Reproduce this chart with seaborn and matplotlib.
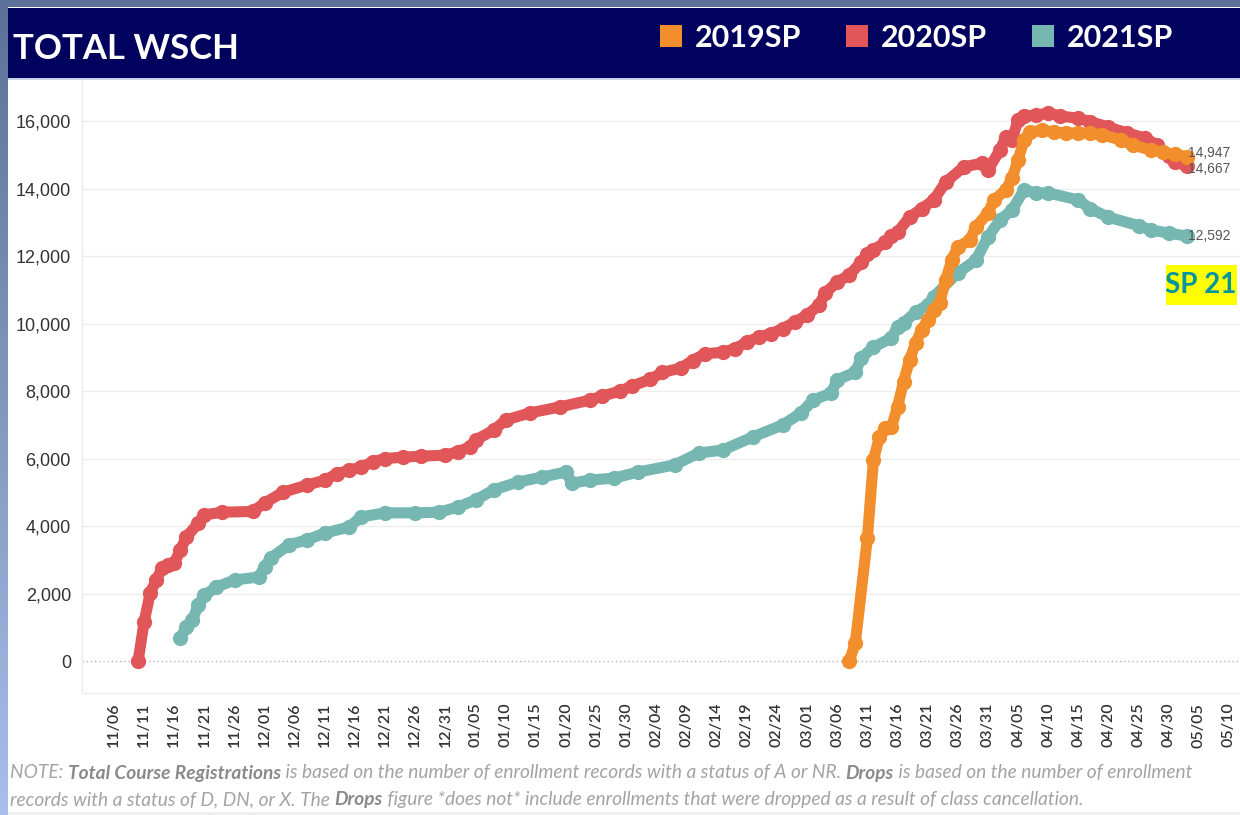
import numpy as np
import pandas as pd
import matplotlib
matplotlib.use("Agg")
import matplotlib.pyplot as plt
import seaborn as sns
from matplotlib.patches import Rectangle
from matplotlib.colors import LinearSegmentedColormap

# ---------------- data ----------------
series_names = ["2019SP", "2020SP", "2021SP"]
series_colors = ["#f28e2b", "#e15759", "#76b7b2"]

dates_2019 = ["03/08", "03/09", "03/11", "03/12", "03/13", "03/14", "03/15", "03/16", "03/17",
              "03/18", "03/19", "03/20", "03/21", "03/22", "03/23", "03/24", "03/25", "03/26",
              "03/28", "03/29", "03/31", "04/01", "04/03", "04/04", "04/05", "04/06", "04/07",
              "04/09", "04/11", "04/13", "04/15", "04/17", "04/19", "04/22", "04/24", "04/27",
              "04/29", "05/01", "05/03"]
wsch_2019 = [0, 530, 3640, 5950, 6640, 6900, 6930, 7530, 8270,
             8920, 9420, 9810, 10100, 10400, 10610, 11290, 11880, 12270,
             12470, 12860, 13270, 13660, 13960, 14310, 14840, 15440, 15680,
             15720, 15680, 15640, 15650, 15640, 15590, 15440, 15290, 15140,
             15080, 15010, 14947]

dates_2020 = ["11/10", "11/11", "11/12", "11/13", "11/14", "11/15", "11/16", "11/17", "11/18",
              "11/20", "11/21", "11/24", "11/29", "12/01", "12/04", "12/08", "12/11", "12/13",
              "12/15", "12/17", "12/19", "12/21", "12/24", "12/27", "12/31", "01/02", "01/04",
              "01/05", "01/08", "01/10", "01/14", "01/19", "01/24", "01/26", "01/29", "01/31",
              "02/03", "02/05", "02/08", "02/10", "02/12", "02/15", "02/17", "02/19", "02/21",
              "02/23", "02/25", "02/27", "03/01", "03/03", "03/04", "03/06", "03/08", "03/10",
              "03/11", "03/12", "03/14", "03/15", "03/16", "03/18", "03/20", "03/22", "03/24",
              "03/27", "03/30", "03/31", "04/02", "04/03", "04/04", "04/05", "04/06", "04/08",
              "04/10", "04/12", "04/15", "04/17", "04/20", "04/23", "04/26", "04/28", "04/30",
              "05/01", "05/03"]
wsch_2020 = [0, 1160, 2010, 2400, 2750, 2850, 2900, 3290, 3670,
             4090, 4330, 4410, 4430, 4680, 5000, 5210, 5360, 5550,
             5650, 5750, 5900, 6000, 6040, 6070, 6100, 6200, 6340,
             6550, 6840, 7140, 7350, 7530, 7730, 7850, 8000, 8150,
             8350, 8550, 8680, 8900, 9100, 9150, 9250, 9450, 9600,
             9700, 9850, 10050, 10250, 10550, 10900, 11230, 11440, 11820,
             12050, 12180, 12410, 12600, 12700, 13150, 13400, 13660, 14190,
             14640, 14750, 14550, 15140, 15530, 15440, 16030, 16150, 16170,
             16240, 16150, 16080, 15980, 15820, 15650, 15500, 15300, 14950,
             14800, 14667]

dates_2021 = ["11/17", "11/18", "11/19", "11/20", "11/21", "11/23", "11/26", "11/30", "12/01",
              "12/02", "12/05", "12/08", "12/11", "12/15", "12/17", "12/21", "12/26", "12/30",
              "01/02", "01/05", "01/08", "01/12", "01/16", "01/20", "01/21", "01/24", "01/28",
              "02/01", "02/07", "02/11", "02/15", "02/20", "02/25", "02/28", "03/02", "03/05",
              "03/06", "03/09", "03/10", "03/12", "03/15", "03/16", "03/17", "03/19", "03/21",
              "03/22", "03/26", "03/29", "03/31", "04/02", "04/04", "04/06", "04/08", "04/10",
              "04/15", "04/17", "04/20", "04/25", "04/27", "04/30", "05/03"]
wsch_2021 = [680, 1000, 1210, 1660, 1950, 2190, 2400, 2490, 2790,
             3050, 3440, 3590, 3790, 3970, 4270, 4390, 4390, 4410,
             4560, 4770, 5070, 5300, 5450, 5600, 5270, 5360, 5420,
             5600, 5810, 6160, 6250, 6640, 7000, 7350, 7730, 7940,
             8330, 8560, 8980, 9300, 9570, 9900, 10010, 10340, 10550,
             10790, 11500, 11880, 12560, 13070, 13360, 13960, 13870, 13870,
             13660, 13400, 13150, 12900, 12770, 12680, 12592]

tick_start, tick_end, tick_step_days = "2020-11-06", "2021-05-10", 5
y_ticks = [0, 2000, 4000, 6000, 8000, 10000, 12000, 14000, 16000]

title_text = "TOTAL WSCH"
badge_text = "SP 21"
note_line1 = [("NOTE: ", False), ("Total Course Registrations", True),
              (" is based on the number of enrollment records with a status of A or NR. ", False),
              ("Drops", True), (" is based on the number of enrollment", False)]
note_line2 = [("records with a status of D, DN, or X. The ", False), ("Drops", True),
              (" figure *does not* include enrollments that were dropped as a result of class cancellation.", False)]


def to_dt(mmdd):
    m = int(mmdd[:2])
    year = 2020 if m >= 8 else 2021
    return pd.Timestamp(f"{year}-{mmdd[:2]}-{mmdd[3:]}")


frames = []
for name, d, v in [("2019SP", dates_2019, wsch_2019), ("2020SP", dates_2020, wsch_2020),
                   ("2021SP", dates_2021, wsch_2021)]:
    frames.append(pd.DataFrame({"date": [to_dt(s) for s in d], "wsch": v, "term": name}))
df = pd.concat(frames, ignore_index=True)
palette = dict(zip(series_names, series_colors))

# ---------------- figure ----------------
W, H = 1240, 815
sns.set_theme(style="white")
plt.rcParams["font.family"] = ["Liberation Sans", "DejaVu Sans"]

fig = plt.figure(figsize=(W / 100, H / 100), dpi=100)
fig.patch.set_facecolor("white")


def fx(px):
    return px / W


def fy(py):
    return 1 - py / H


# frame decoration
fig.patches.append(Rectangle((0, fy(7)), 1, 7 / H, transform=fig.transFigure,
                             facecolor="#5b7198", edgecolor="none", zorder=0))
bg = fig.add_axes([0, 0, fx(8), 1], zorder=-5)
grad = np.linspace(0, 1, 256).reshape(-1, 1)
cm = LinearSegmentedColormap.from_list("edge", ["#5b7198", "#a9bee8"])
bg.imshow(grad, aspect="auto", cmap=cm, extent=[0, 1, 0, 1], origin="upper")
bg.axis("off")

fig.patches.append(Rectangle((fx(8), fy(78)), 1 - fx(8), 70 / H, transform=fig.transFigure,
                             facecolor="#01015e", edgecolor="none", zorder=1))
fig.patches.append(Rectangle((fx(8), fy(80)), 1 - fx(8), 2 / H, transform=fig.transFigure,
                             facecolor="#c9cfe8", edgecolor="none", zorder=1))

fig.text(fx(13), fy(59), title_text, family=["Lato", "DejaVu Sans"], fontweight="bold",
         fontsize=25, color="white", va="baseline", ha="left", zorder=3)

leg_x = [660, 846, 1032]
for lx, name, col in zip(leg_x, series_names, series_colors):
    fig.patches.append(Rectangle((fx(lx), fy(47)), 22 / W, 22 / H, transform=fig.transFigure,
                                 facecolor=col, edgecolor="none", zorder=3))
    fig.text(fx(lx + 35), fy(47), name, family=["Lato", "DejaVu Sans"], fontweight="bold",
             fontsize=22, color="white", va="baseline", ha="left", zorder=3)

# ---------------- main axes ----------------
ax = fig.add_axes([fx(82), fy(693), 1 - fx(82), (693 - 80) / H])
ax.set_facecolor("white")

base = pd.Timestamp(tick_start)
px_per_day = 6.027
ax.set_xlim(base + pd.Timedelta(days=(82 - 114) / px_per_day),
            base + pd.Timedelta(days=(1240 - 114) / px_per_day))
ax.set_ylim(-948, 17215)

for name in ["2021SP", "2020SP", "2019SP"]:
    sub = df[df["term"] == name]
    sns.lineplot(data=sub, x="date", y="wsch", color=palette[name], marker="o",
                 markersize=11, markeredgewidth=0, linewidth=8, ax=ax, legend=False,
                 solid_capstyle="round", solid_joinstyle="round", zorder=3)

# end labels (small vertical nudges keep the two upper labels legible)
nudges = {"2019SP": 2.5, "2020SP": -2.5, "2021SP": 0}
for name in ["2019SP", "2020SP", "2021SP"]:
    sub = df[df["term"] == name].sort_values("date")
    last = sub.iloc[-1]
    ax.annotate(f"{int(last['wsch']):,}", xy=(last["date"], last["wsch"]),
                xytext=(1, nudges[name]), textcoords="offset points", fontsize=10,
                color="#555555", va="center", ha="left", zorder=5, annotation_clip=False)

# ticks
xt = pd.date_range(tick_start, tick_end, freq=f"{tick_step_days}D")
ax.set_xticks(xt)
ax.set_xticklabels([d.strftime("%m/%d") for d in xt], rotation=90,
                   family=["Lato", "DejaVu Sans"], fontweight="semibold", fontsize=11.5,
                   color="#333333")
ax.set_yticks(y_ticks)
ax.set_yticklabels([f"{v:,}" for v in y_ticks], fontsize=13, color="#333333")
ax.tick_params(axis="both", length=0)
ax.tick_params(axis="y", pad=8)
ax.tick_params(axis="x", pad=7)
ax.set_xlabel("")
ax.set_ylabel("")

ax.yaxis.grid(True, color="#ededed", linewidth=1)
ax.xaxis.grid(False)
ax.get_ygridlines()[0].set_visible(False)
ax.axhline(0, color="#b5b5b5", linestyle=(0, (1, 2)), linewidth=1, zorder=1)
for s in ["top", "right"]:
    ax.spines[s].set_visible(False)
for s in ["left", "bottom"]:
    ax.spines[s].set_color("#ececec")
    ax.spines[s].set_linewidth(1)

# badge
fig.patches.append(Rectangle((fx(1166), fy(305)), 71 / W, 40 / H, transform=fig.transFigure,
                             facecolor="#ffff00", edgecolor="none", zorder=6))
fig.text(fx(1201), fy(285), badge_text, family=["Lato", "DejaVu Sans"], fontweight="bold",
         fontsize=20, color="#00959f", ha="center", va="center", zorder=7)

# note text
renderer = fig.canvas.get_renderer()


def draw_line(segs, y_px, size, measure_only=False):
    x = 10
    made = []
    for txt, bold in segs:
        t = fig.text(fx(x), fy(y_px), txt, family=["Lato", "DejaVu Sans"], fontstyle="italic",
                     fontweight="bold" if bold else "normal", fontsize=size,
                     color="#8a8a8a" if bold else "#a3a3a3", va="center", ha="left")
        bb = t.get_window_extent(renderer=renderer)
        x += bb.width
        made.append(t)
    if measure_only:
        for t in made:
            t.remove()
    return x - 10


w10 = draw_line(note_line1, 773, 10, measure_only=True)
note_size = 10 * 1183 / w10
draw_line(note_line1, 773, note_size)
draw_line(note_line2, 800, note_size)

fig.patches.append(Rectangle((fx(8), 0), 1, 3 / H, transform=fig.transFigure,
                             facecolor="#eeeeee", edgecolor="none", zorder=1))

fig.savefig("out.png", dpi=100)
